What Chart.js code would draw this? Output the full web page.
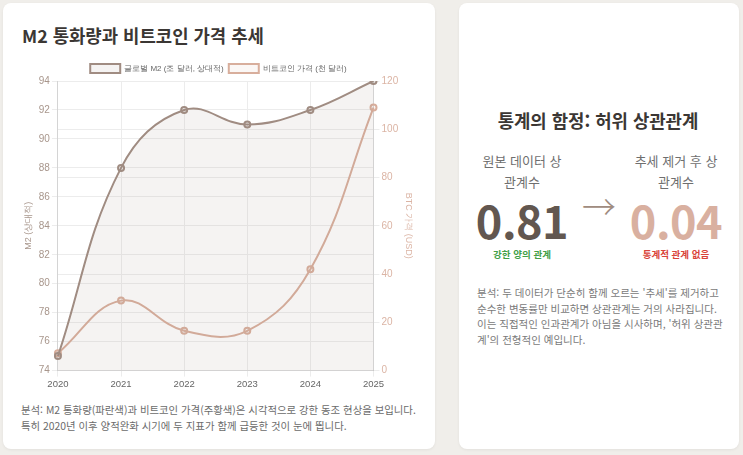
<!DOCTYPE html>
<html lang="ko">
<head>
<meta charset="utf-8">
<title>M2 통화량과 비트코인 가격 추세</title>
<script src="https://cdn.jsdelivr.net/npm/chart.js@4.4.1/dist/chart.umd.min.js"></script>
<style>
  html, body { margin: 0; padding: 0; }
  body {
    width: 743px; height: 455px; overflow: hidden;
    background: #f0eeea;
    font-family: "Noto Sans CJK KR", "Noto Sans", sans-serif;
    position: relative;
  }
  .card {
    position: absolute; top: 3px; height: 446px;
    background: #fff; border-radius: 8px;
    box-shadow: 0 1px 3px rgba(0,0,0,0.06);
  }
  #left { left: 3px; width: 432px; }
  #right { left: 459px; width: 280px; }
  #left h2 {
    position: absolute; left: 19px; top: 19px; margin: 0;
    font-size: 17.8px; font-weight: 700; color: #3b3734; line-height: 26px;
  }
  #chartBox { position: absolute; left: 17px; top: 56px; width: 397px; height: 333px; }
  #left p {
    position: absolute; left: 18px; top: 399px; margin: 0; width: 410px;
    font-size: 10.4px; line-height: 16px; color: #6b6b6b;
  }
  #rightInner {
    position: absolute; left: 18px; right: 20px; top: 104px;
    text-align: center;
  }
  #rightInner h3 {
    margin: 0; font-size: 17.8px; font-weight: 700; color: #3b3734; line-height: 26px;
  }
  .cols { display: flex; justify-content: space-between; align-items: flex-start; margin: 17px -7px 0 -5px; }
  .col { width: 100px; flex: none; }
  .col .lbl { font-size: 13px; line-height: 21px; color: #6f6f6f; padding: 0 6px; }
  .col .num { font-size: 45px; font-weight: 700; line-height: 50px; margin-top: 3px; letter-spacing: -0.5px; }
  .col .tag { font-size: 9.5px; font-weight: 700; line-height: 14px; margin-top: 2px; }
  .arrow { font-size: 34px; font-weight: 300; color: #a08c80; margin-top: 36px; width: 40px; line-height: 40px; }
  #rightInner p {
    margin: 24px -10px 0 0; text-align: left; white-space: nowrap;
    font-size: 10.5px; line-height: 15.5px; color: #7a7a7a;
  }
</style>
</head>
<body>
<div class="card" id="left">
  <h2>M2 통화량과 비트코인 가격 추세</h2>
  <div id="chartBox"><canvas id="trendChart"></canvas></div>
  <p>분석: M2 통화량(파란색)과 비트코인 가격(주황색)은 시각적으로 강한 동조 현상을 보입니다.<br>특히 2020년 이후 양적완화 시기에 두 지표가 함께 급등한 것이 눈에 띕니다.</p>
</div>
<div class="card" id="right">
  <div id="rightInner">
    <h3>통계의 함정: 허위 상관관계</h3>
    <div class="cols">
      <div class="col">
        <div class="lbl">원본 데이터 상관계수</div>
        <div class="num" style="color:#625750">0.81</div>
        <div class="tag" style="color:#43a047">강한 양의 관계</div>
      </div>
      <div class="arrow">→</div>
      <div class="col">
        <div class="lbl">추세 제거 후 상관계수</div>
        <div class="num" style="color:#d9b0a0">0.04</div>
        <div class="tag" style="color:#d9443a">통계적 관계 없음</div>
      </div>
    </div>
    <p>분석: 두 데이터가 단순히 함께 오르는 '추세'를 제거하고<br>순수한 변동률만 비교하면 상관관계는 거의 사라집니다.<br>이는 직접적인 인과관계가 아님을 시사하며, '허위 상관관<br>계'의 전형적인 예입니다.</p>
  </div>
</div>
<script>
const years = ["2020", "2021", "2022", "2023", "2024", "2025"];
const m2Values = [75, 88, 92, 91, 92, 94];
const btcValues = [7.2, 29, 16.5, 16.5, 42, 109];

const m2Color = "#a08c82";
const btcColor = "#d8ae9c";

// trim a little space under the legend
const tightLegend = {
  id: "tightLegend",
  beforeInit(chart) {
    const fit = chart.legend.fit;
    chart.legend.fit = function () {
      fit.bind(chart.legend)();
      this.height -= 2;
    };
  }
};

new Chart(document.getElementById("trendChart").getContext("2d"), {
  type: "line",
  data: {
    labels: years,
    datasets: [
      {
        label: "글로벌 M2 (조 달러, 상대적)",
        data: m2Values,
        borderColor: m2Color,
        backgroundColor: "rgba(160, 140, 130, 0.1)",
        borderWidth: 2,
        pointRadius: 3,
        fill: true,
        tension: 0.4,
        yAxisID: "y"
      },
      {
        label: "비트코인 가격 (천 달러)",
        data: btcValues,
        borderColor: btcColor,
        backgroundColor: "rgba(216, 174, 156, 0.1)",
        borderWidth: 2,
        pointRadius: 3,
        fill: false,
        tension: 0.4,
        yAxisID: "y1"
      }
    ]
  },
  options: {
    responsive: true,
    maintainAspectRatio: false,
    animation: false,
    plugins: {
      legend: {
        position: "top",
        labels: {
          boxWidth: 30,
          boxHeight: 9,
          padding: 5,
          color: "#666",
          font: { size: 8 }
        }
      },
      tooltip: { enabled: false }
    },
    scales: {
      x: {
        grid: { color: "#ececec", tickLength: 6 },
        ticks: { color: "#666", padding: 2, font: { size: 9.5 } }
      },
      y: {
        position: "left",
        min: 74,
        max: 94,
        ticks: { stepSize: 2, color: "#a8968c", padding: 2, font: { size: 10 } },
        grid: { color: "#ececec", tickLength: 6 },
        title: { display: true, text: "M2 (상대적)", color: "#a8968c", padding: 3, font: { size: 9 } }
      },
      y1: {
        position: "right",
        min: 0,
        max: 120,
        ticks: { stepSize: 20, color: "#dbb4a4", padding: 2, font: { size: 10 } },
        grid: { color: "#ececec", tickLength: 6 },
        title: { display: true, text: "BTC 가격 (USD)", color: "#dbb4a4", padding: 3, font: { size: 9 } }
      }
    }
  },
  plugins: [tightLegend]
});
</script>
</body>
</html>
